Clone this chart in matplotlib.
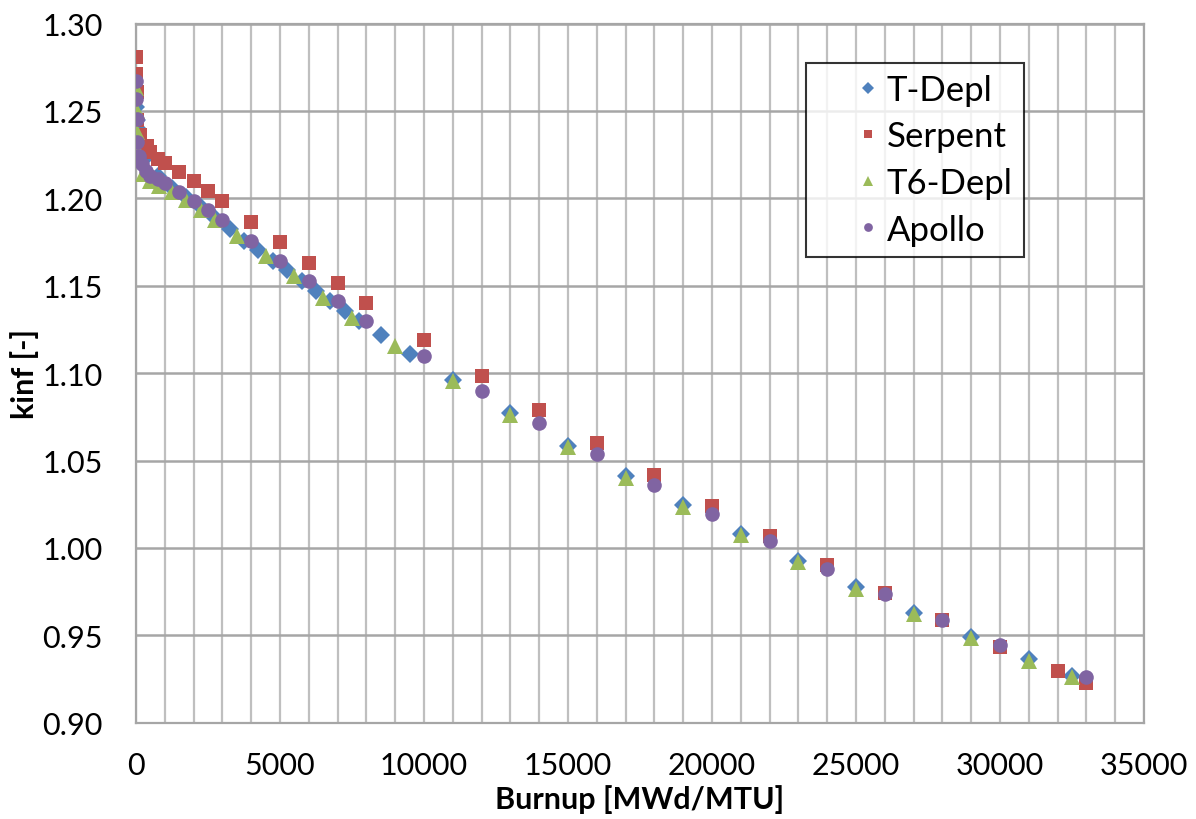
import matplotlib
matplotlib.use("Agg")
import matplotlib.pyplot as plt
from matplotlib.ticker import MultipleLocator

plt.rcParams['font.family'] = ['Lato', 'DejaVu Sans']

# T-Depl
tdepl_x = [0, 25, 50, 100, 250, 750, 1250, 1750, 2250, 2750, 3250, 3750, 4250, 4750,
           5250, 5750, 6250, 6750, 7250, 7750, 8500, 9500, 11000, 13000, 15000, 17000,
           19000, 21000, 23000, 25000, 27000, 29000, 31000, 32500]
tdepl_k = [1.252, 1.245, 1.240, 1.232, 1.222, 1.2125, 1.206, 1.2005, 1.195, 1.189, 1.1824,
           1.1757, 1.1706, 1.1643, 1.1589, 1.1528, 1.1467, 1.1410, 1.1353, 1.1296, 1.1219,
           1.1110, 1.0960, 1.0770, 1.0585, 1.0410, 1.0243, 1.0080, 0.9925, 0.9775, 0.9630,
           0.9492, 0.9362, 0.9267]

# Serpent
serp_x = [0, 10, 25, 50, 150, 375, 500, 750, 1000, 1500, 2000, 2500, 3000, 4000, 5000,
          6000, 7000, 8000, 10000, 12000, 14000, 16000, 18000, 20000, 22000, 24000, 26000,
          28000, 30000, 32000, 33000]
serp_k = [1.281, 1.271, 1.261, 1.245, 1.236, 1.2300, 1.2263, 1.2225, 1.2202, 1.2149, 1.2100,
          1.2043, 1.1986, 1.1863, 1.1748, 1.1630, 1.1514, 1.1403, 1.1188, 1.0982, 1.0787,
          1.0600, 1.0419, 1.0242, 1.0070, 0.9904, 0.9743, 0.9590, 0.9431, 0.9298, 0.9225]

# T6-Depl
t6_x = [0, 25, 50, 100, 250, 500, 800, 1250, 1750, 2250, 2750, 3500, 4500, 5500, 6500,
        7500, 9000, 11000, 13000, 15000, 17000, 19000, 21000, 23000, 25000, 27000, 29000,
        31000, 32500]
t6_k = [1.263, 1.250, 1.238, 1.226, 1.2139, 1.2101, 1.2072, 1.2034, 1.1990, 1.1935, 1.1878,
        1.1783, 1.1668, 1.1554, 1.1430, 1.1315, 1.1157, 1.0953, 1.0762, 1.0577, 1.0400,
        1.0235, 1.0072, 0.9918, 0.9767, 0.9622, 0.9485, 0.9355, 0.9260]

# Apollo
apollo_x = [0, 10, 25, 50, 100, 200, 350, 500, 750, 1000, 1500, 2000, 2500, 3000, 4000,
            5000, 6000, 7000, 8000, 10000, 12000, 14000, 16000, 18000, 20000, 22000, 24000,
            26000, 28000, 30000, 33000]
apollo_k = [1.2674, 1.2566, 1.2451, 1.2324, 1.2240, 1.2198, 1.2155, 1.2128, 1.2108, 1.2085,
            1.2037, 1.1985, 1.1932, 1.1878, 1.1757, 1.1640, 1.1525, 1.1411, 1.1300, 1.1096,
            1.0899, 1.0715, 1.0537, 1.0362, 1.0195, 1.0038, 0.9882, 0.9737, 0.9590, 0.9447,
            0.9260]

fig = plt.figure(figsize=(11.96, 8.2), dpi=100)
ax = fig.add_axes([0.1137, 0.1174, 0.8428, 0.8527])

ax.plot(tdepl_x, tdepl_k, 'D', color='#4F81BD', markersize=9.5, mew=0, label='T-Depl', zorder=3)
ax.plot(serp_x, serp_k, 's', color='#C0504D', markersize=9.5, mew=0, label='Serpent', zorder=4)
ax.plot(t6_x, t6_k, '^', color='#9BBB59', markersize=12, mew=0, label='T6-Depl', zorder=5)
ax.plot(apollo_x, apollo_k, 'o', color='#8064A2', markersize=10.5, mew=0, label='Apollo', zorder=6)

ax.set_xlim(0, 35000)
ax.set_ylim(0.90, 1.30)
ax.xaxis.set_major_locator(MultipleLocator(5000))
ax.xaxis.set_minor_locator(MultipleLocator(1000))
ax.yaxis.set_major_locator(MultipleLocator(0.05))
ax.yaxis.set_major_formatter(matplotlib.ticker.FormatStrFormatter('%.2f'))

ax.grid(which='minor', axis='x', color='#BFBFBF', linewidth=1.6, zorder=0)
ax.grid(which='major', axis='x', color='#BFBFBF', linewidth=1.6, zorder=0)
ax.grid(which='major', axis='y', color='#A6A6A6', linewidth=1.8, zorder=0)
ax.set_axisbelow(True)

for s in ax.spines.values():
    s.set_color('#A6A6A6')
    s.set_linewidth(1.6)

ax.tick_params(which='both', length=0, labelsize=22)
ax.tick_params(axis='y', pad=24)
ax.tick_params(axis='x', pad=20)

ax.set_xlabel('Burnup [MWd/MTU]', fontsize=22, fontweight='bold', labelpad=4)
ax.set_ylabel('kinf [-]', fontsize=22, fontweight='bold', labelpad=2)

leg = ax.legend(loc='upper left', bbox_to_anchor=(0.665, 0.944), borderaxespad=0,
                fontsize=25, frameon=True, fancybox=False, edgecolor='black',
                markerscale=0.6, handlelength=2.9, handletextpad=-0.9,
                labelspacing=0.42, borderpad=0.32)
leg.get_frame().set_linewidth(1.5)

fig.savefig('out.png', dpi=100)
